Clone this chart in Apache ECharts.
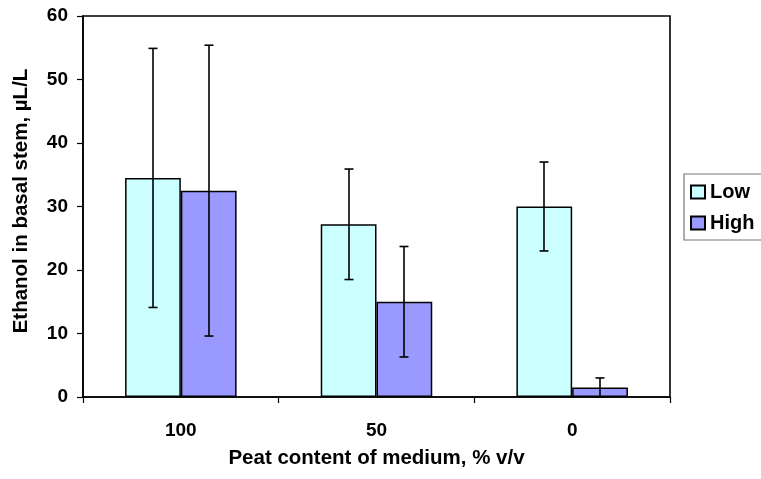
<!DOCTYPE html>
<html>
<head>
<meta charset="utf-8">
<script src="https://cdn.jsdelivr.net/npm/echarts@6/dist/echarts.min.js"></script>
<style>
  html, body { margin: 0; padding: 0; background: #fff; }
  #chart { width: 761px; height: 479px; }
</style>
</head>
<body>
<div id="chart"></div>
<script>
// Peat content categories and ethanol means with ± error
const categories = ['100', '50', '0'];
const lowValues = [34.5, 27.2, 30.0];
const lowErrors = [20.4, 8.7, 7.0];
const highValues = [32.5, 15.0, 1.5];
const highErrors = [22.9, 8.7, 1.5];

const FONT = '"Liberation Sans", Arial, sans-serif';
const GAP = 0.43;

function errorSeries(values, errors, side) {
  return {
    type: 'custom',
    z: 5,
    silent: true,
    data: values.map((v, i) => [i, v - errors[i], v + errors[i]]),
    renderItem: function (params, api) {
      const band = api.size([1, 0])[0];
      const barW = band * (1 - GAP) / 2;
      const c = api.coord([api.value(0), 0]);
      const x = Math.round(c[0] + side * barW / 2);
      const lo = api.coord([api.value(0), api.value(1)])[1];
      const hi = api.coord([api.value(0), api.value(2)])[1];
      const cap = 4.5;
      const style = { stroke: '#000', lineWidth: 1.6, fill: null };
      return {
        type: 'group',
        children: [
          { type: 'line', shape: { x1: x, y1: lo, x2: x, y2: hi }, style },
          { type: 'line', shape: { x1: x - cap, y1: hi, x2: x + cap, y2: hi }, style },
          { type: 'line', shape: { x1: x - cap, y1: lo, x2: x + cap, y2: lo }, style }
        ]
      };
    }
  };
}

const chart = echarts.init(document.getElementById('chart'));
chart.setOption({
  animation: false,
  backgroundColor: '#fff',
  grid: { left: 83, right: 91, top: 16, bottom: 82, show: true, borderColor: '#000', borderWidth: 1.6 },
  legend: {
    data: ['Low', 'High'],
    orient: 'vertical',
    left: 684,
    top: 174,
    icon: 'rect',
    itemWidth: 14,
    itemHeight: 13,
    itemGap: 11,
    padding: [8, 20, 7, 6],
    borderColor: '#777',
    borderWidth: 1.2,
    textStyle: { fontFamily: FONT, fontWeight: 'bold', fontSize: 20, color: '#000' }
  },
  xAxis: {
    type: 'category',
    data: categories,
    axisLine: { lineStyle: { color: '#000', width: 1.6 } },
    axisTick: { show: true, length: 6, lineStyle: { color: '#000', width: 1.2 } },
    axisLabel: { fontFamily: FONT, fontWeight: 'bold', fontSize: 19, color: '#000', margin: 24 },
    name: 'Peat content of medium, % v/v',
    nameLocation: 'middle',
    nameGap: 51,
    nameTextStyle: { fontFamily: FONT, fontWeight: 'bold', fontSize: 20.5, color: '#000' }
  },
  yAxis: {
    type: 'value',
    min: 0,
    max: 60,
    interval: 10,
    splitLine: { show: false },
    axisLine: { show: true, lineStyle: { color: '#000', width: 1.6 } },
    axisTick: { show: true, length: 6, lineStyle: { color: '#000', width: 1.2 } },
    axisLabel: { fontFamily: FONT, fontWeight: 'bold', fontSize: 19, color: '#000', margin: 15 },
    name: 'Ethanol in basal stem, µL/L',
    nameLocation: 'middle',
    nameGap: 51,
    nameTextStyle: { fontFamily: FONT, fontWeight: 'bold', fontSize: 20.5, color: '#000', padding: [0, 0, 0, 11] }
  },
  series: [
    {
      name: 'Low',
      type: 'bar',
      data: lowValues,
      barGap: '0%',
      barCategoryGap: (GAP * 100) + '%',
      itemStyle: { color: '#ccffff', borderColor: '#000', borderWidth: 1.5 }
    },
    {
      name: 'High',
      type: 'bar',
      data: highValues,
      barGap: '0%',
      barCategoryGap: (GAP * 100) + '%',
      itemStyle: { color: '#9999ff', borderColor: '#000', borderWidth: 1.5 }
    },
    errorSeries(lowValues, lowErrors, -1),
    errorSeries(highValues, highErrors, 1)
  ]
});
</script>
</body>
</html>
